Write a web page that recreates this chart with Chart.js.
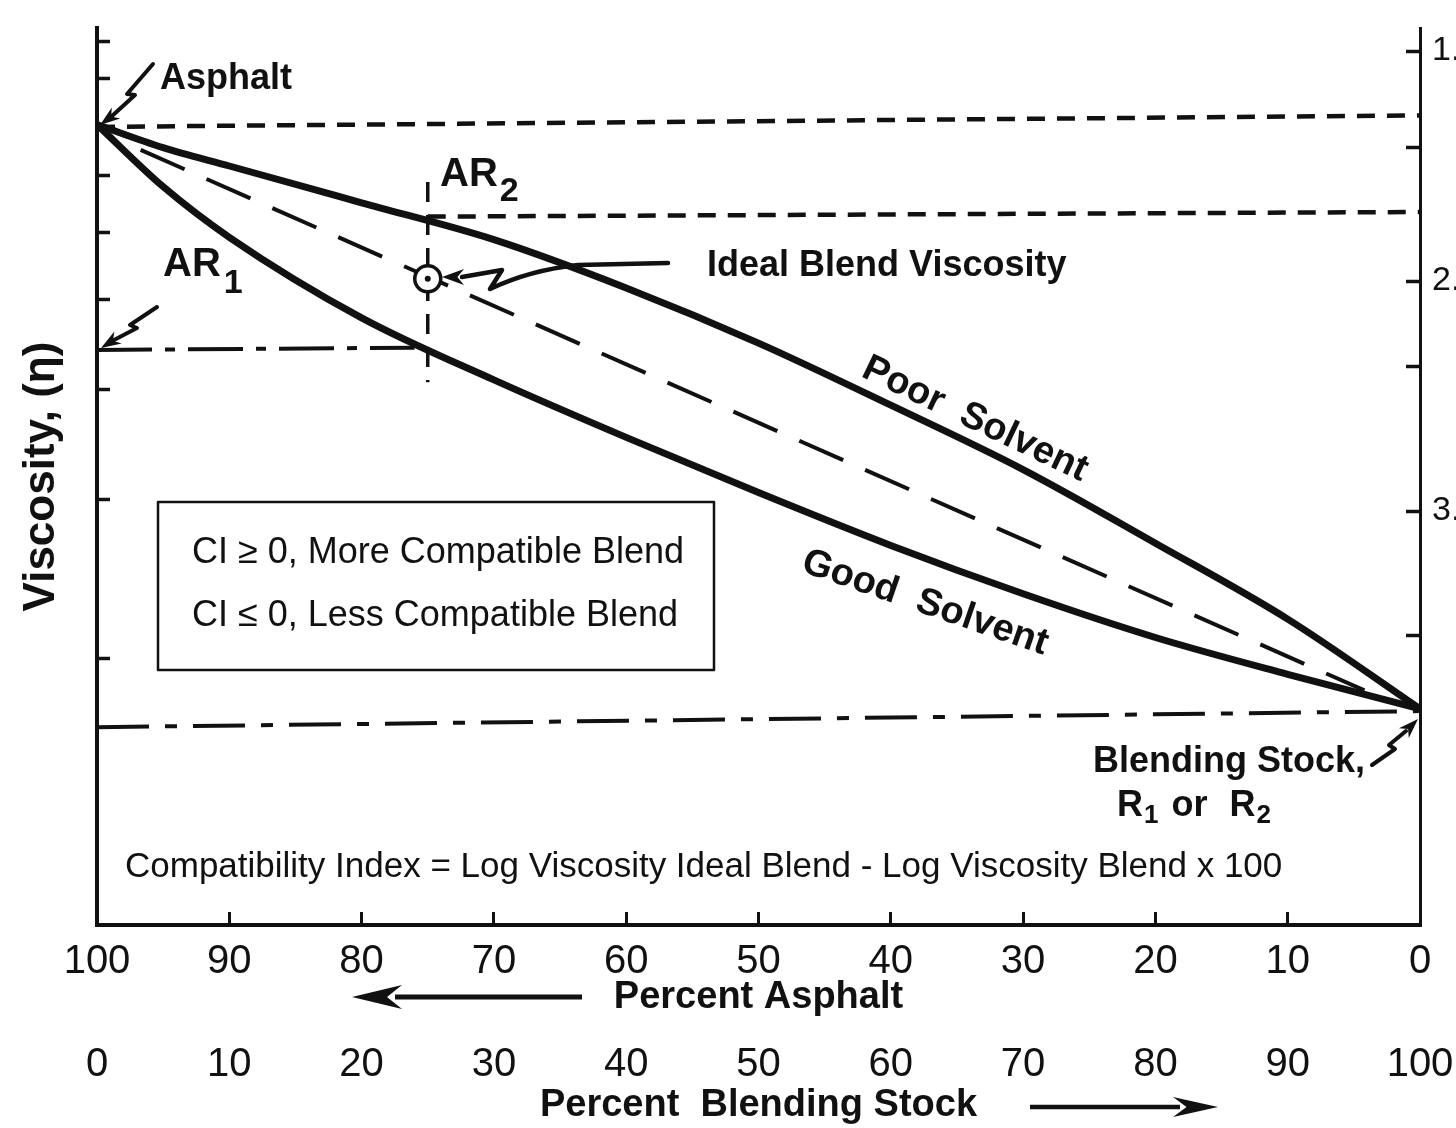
<!DOCTYPE html>
<html>
<head>
<meta charset="utf-8">
<title>Compatibility Index - blend viscosity</title>
<style>
  html, body { margin: 0; padding: 0; background: #fff; }
  #wrap { width: 1456px; height: 1128px; }
</style>
<script src="https://cdn.jsdelivr.net/npm/chart.js@4.4.1/dist/chart.umd.min.js"></script>
</head>
<body>
<div id="wrap"><canvas id="blendChart" width="1456" height="1128"></canvas></div>
<script>
/* =========================
   DATA
   x = percent asphalt, y = log viscosity on the right-hand scale
========================= */

const asphaltPct  = [100, 95, 90, 80, 70, 60, 50, 40, 30, 20, 10, 0];
const poorSolvent = [1.32, 1.42, 1.50, 1.66, 1.82, 2.03, 2.27, 2.54, 2.82, 3.14, 3.47, 3.86];
const goodSolvent = [1.32, 1.59, 1.81, 2.16, 2.43, 2.68, 2.92, 3.15, 3.36, 3.55, 3.71, 3.86];

const idealPct   = [96.7, 4.2];
const idealBlend = [1.43, 3.78];

const asphaltLevelPct = [100, 0];
const asphaltLevel    = [1.33, 1.28];
const ar2LevelPct     = [75, 0];
const ar2Level        = [1.72, 1.70];
const ar1LevelPct     = [100, 76];
const ar1Level        = [2.30, 2.29];
const blendMarkPct    = [75, 75];
const blendMark       = [1.57, 2.44];
const stockLevelPct   = [100, 0];
const stockLevel      = [3.94, 3.87];

const idealPointPct = [75];
const idealPoint    = [1.99];

const leftTicks       = [0.96, 1.12, 1.54, 1.79, 2.08, 2.47, 2.95, 3.64];
const rightTicks      = [1.0, 1.42, 2.0, 2.37, 3.0, 3.54];
const rightTickLabels = ['1.', '', '2.', '', '3.', ''];

const FONT = '"Liberation Sans", Arial, Helvetica, sans-serif';
const INK = '#111';

function series(label, xs, ys, style) {
  return Object.assign({
    label: label,
    data: xs.map((x, i) => ({ x: x, y: ys[i] })),
    borderColor: INK,
    backgroundColor: INK,
    pointRadius: 0,
    fill: false,
    tension: 0,
    order: 3,
    xAxisID: 'x',
    yAxisID: 'y'
  }, style);
}

// keep the axes from pushing the plot area in for their edge labels
function noEdgePadding(scale) {
  scale.paddingTop = 0;
  scale.paddingBottom = 0;
  scale.paddingLeft = 0;
  scale.paddingRight = 0;
}

/* =========================
   ANNOTATIONS
========================= */

function text(ctx, str, x, y, size, weight, angle) {
  ctx.save();
  ctx.font = weight + ' ' + size + 'px ' + FONT;
  ctx.translate(x, y);
  if (angle) ctx.rotate(angle * Math.PI / 180);
  ctx.textAlign = 'left';
  ctx.textBaseline = 'alphabetic';
  ctx.fillText(str, 0, 0);
  const w = ctx.measureText(str).width;
  ctx.restore();
  return w;
}

function polyline(ctx, pts, width) {
  ctx.lineWidth = width;
  ctx.beginPath();
  ctx.moveTo(pts[0][0], pts[0][1]);
  for (let i = 1; i < pts.length; i++) ctx.lineTo(pts[i][0], pts[i][1]);
  ctx.stroke();
}

function arrowHead(ctx, tip, from, len, half) {
  const ang = Math.atan2(tip[1] - from[1], tip[0] - from[0]);
  ctx.save();
  ctx.translate(tip[0], tip[1]);
  ctx.rotate(ang);
  ctx.beginPath();
  ctx.moveTo(0, 0);
  ctx.lineTo(-len, -half);
  ctx.lineTo(-len * 0.7, 0);
  ctx.lineTo(-len, half);
  ctx.closePath();
  ctx.fill();
  ctx.restore();
}

const annotationPlugin = {
  id: 'annotations',
  afterDraw(chart) {
    const ctx = chart.ctx;
    ctx.save();
    ctx.fillStyle = INK;
    ctx.strokeStyle = INK;
    ctx.lineCap = 'round';
    ctx.lineJoin = 'round';

    // Asphalt
    text(ctx, 'Asphalt', 160, 89, 36, 'bold');
    polyline(ctx, [[153, 64], [127, 94], [135, 95], [112, 116]], 4);
    arrowHead(ctx, [100, 125], [112, 116], 20, 7);

    // AR2
    let w = text(ctx, 'AR', 440, 186, 40, 'bold');
    text(ctx, '2', 440 + w + 2, 201, 34, 'bold');

    // AR1
    w = text(ctx, 'AR', 163, 276, 40, 'bold');
    text(ctx, '1', 163 + w + 3, 293, 34, 'bold');
    polyline(ctx, [[157, 307], [130, 325], [137, 328], [114, 340]], 4);
    arrowHead(ctx, [101, 348], [114, 340], 20, 7);

    // Ideal blend viscosity
    text(ctx, 'Ideal Blend Viscosity', 707, 276, 36, 'bold');
    ctx.lineWidth = 4.5;
    ctx.beginPath();
    ctx.moveTo(668, 263);
    ctx.lineTo(578, 265);
    ctx.quadraticCurveTo(530, 270, 490, 289);
    ctx.lineTo(502, 270);
    ctx.lineTo(462, 277);
    ctx.stroke();
    arrowHead(ctx, [442, 277], [462, 277], 22, 8);

    // curve names
    text(ctx, 'Poor  Solvent', 860, 376, 38, 'bold', 25.5);
    text(ctx, 'Good  Solvent', 800, 571, 38, 'bold', 19);

    // compatibility box
    ctx.lineWidth = 2.5;
    ctx.strokeRect(158, 502, 556, 168);
    text(ctx, 'CI \u2265 0, More Compatible Blend', 192, 563, 36, 'normal');
    text(ctx, 'CI \u2264 0, Less Compatible Blend', 192, 626, 36, 'normal');

    // blending stock
    text(ctx, 'Blending Stock,', 1093, 772, 36, 'bold');
    let x = 1117;
    x += text(ctx, 'R', x, 816, 36, 'bold');
    x += text(ctx, '1', x + 1, 823, 26, 'bold') + 14;
    x += text(ctx, 'or', x, 816, 36, 'bold') + 22;
    x += text(ctx, 'R', x, 816, 36, 'bold');
    text(ctx, '2', x + 1, 823, 26, 'bold');
    polyline(ctx, [[1372, 765], [1395, 749], [1389, 745], [1406, 731]], 4);
    arrowHead(ctx, [1418, 719], [1406, 731], 20, 7);

    // index definition
    text(ctx, 'Compatibility Index = Log Viscosity Ideal Blend - Log Viscosity Blend x 100', 125, 877, 35, 'normal');

    // direction arrows under the axis titles
    ctx.lineCap = 'butt';
    polyline(ctx, [[582, 997], [395, 997]], 5);
    arrowHead(ctx, [352, 997], [582, 997], 50, 12);
    polyline(ctx, [[1030, 1107], [1180, 1107]], 4.5);
    arrowHead(ctx, [1218, 1107], [1030, 1107], 45, 10);

    ctx.restore();
  }
};

/* =========================
   CHART
========================= */

const datasets = [
  series('Ideal blend', idealPct, idealBlend, {
    borderWidth: 4, borderDash: [48, 24]
  }),
  series('Poor solvent', asphaltPct, poorSolvent, {
    borderWidth: 7, cubicInterpolationMode: 'monotone', order: 2
  }),
  series('Good solvent', asphaltPct, goodSolvent, {
    borderWidth: 7, cubicInterpolationMode: 'monotone', order: 2
  }),
  series('Asphalt level', asphaltLevelPct, asphaltLevel, {
    borderWidth: 4.5, borderDash: [18, 12]
  }),
  series('AR2 level', ar2LevelPct, ar2Level, {
    borderWidth: 4.5, borderDash: [18, 12]
  }),
  series('AR1 level', ar1LevelPct, ar1Level, {
    borderWidth: 4, borderDash: [55, 13, 10, 13]
  }),
  series('Blend mark', blendMarkPct, blendMark, {
    borderWidth: 3.5, borderDash: [20, 13]
  }),
  series('Blending stock level', stockLevelPct, stockLevel, {
    borderWidth: 4, borderDash: [52, 16, 12, 16]
  }),
  series('Ideal point', idealPointPct, idealPoint, {
    showLine: false, pointRadius: 13, pointBorderWidth: 3.5,
    pointBackgroundColor: '#fff', pointBorderColor: INK, order: 1
  }),
  series('Ideal point centre', idealPointPct, idealPoint, {
    showLine: false, pointRadius: 3, pointBorderWidth: 0,
    pointBackgroundColor: INK, order: 0
  })
];

Chart.defaults.font.family = FONT;
Chart.defaults.color = INK;

new Chart(document.getElementById('blendChart').getContext('2d'), {
  type: 'line',
  data: { datasets: datasets },
  options: {
    responsive: false,
    animation: false,
    devicePixelRatio: 1,
    layout: { padding: { top: 28, left: 0, right: 0, bottom: 0 } },
    plugins: {
      legend: { display: false },
      tooltip: { enabled: false }
    },
    scales: {
      x: {
        type: 'linear',
        position: 'bottom',
        reverse: true,
        min: 0,
        max: 100,
        weight: 0,
        border: { display: true, color: INK, width: 4 },
        grid: {
          drawOnChartArea: false, drawTicks: true,
          tickLength: -13, tickWidth: 3, tickColor: INK
        },
        ticks: {
          stepSize: 10, maxRotation: 0, autoSkip: false,
          padding: 26, color: INK,
          font: { size: 40, weight: 'normal' }
        },
        title: {
          display: true, text: 'Percent Asphalt', color: INK,
          font: { size: 38, weight: 'bold' },
          padding: { top: 0, bottom: 4 }
        },
        afterFit(scale) { scale.height = 99; noEdgePadding(scale); }
      },
      x2: {
        type: 'linear',
        position: 'bottom',
        min: 0,
        max: 100,
        weight: 1,
        border: { display: false },
        grid: { display: false, drawTicks: false },
        ticks: {
          stepSize: 10, maxRotation: 0, autoSkip: false,
          padding: 17, color: INK,
          font: { size: 40, weight: 'normal' }
        },
        title: {
          display: true, text: 'Percent  Blending Stock', color: INK,
          font: { size: 38, weight: 'bold' },
          padding: { top: 0, bottom: 0 }
        },
        afterFit(scale) { scale.height = 104; noEdgePadding(scale); }
      },
      y: {
        type: 'linear',
        position: 'left',
        reverse: true,
        min: 0.9,
        max: 4.8,
        border: { display: true, color: INK, width: 4 },
        grid: {
          drawOnChartArea: false, drawTicks: true,
          tickLength: -13, tickWidth: 3.5, tickColor: INK
        },
        ticks: { display: false, autoSkip: false },
        afterBuildTicks(scale) {
          scale.ticks = leftTicks.map(v => ({ value: v }));
        },
        title: {
          display: true, text: 'Viscosity, (\u03B7)', color: INK,
          font: { size: 44, weight: 'bold' },
          padding: { top: 15, bottom: 0 }
        },
        afterFit(scale) { scale.width = 97; noEdgePadding(scale); }
      },
      y2: {
        type: 'linear',
        position: 'right',
        reverse: true,
        min: 0.9,
        max: 4.8,
        border: { display: true, color: INK, width: 3 },
        grid: {
          drawOnChartArea: false, drawTicks: true,
          tickLength: -14, tickWidth: 3.5, tickColor: INK
        },
        ticks: {
          autoSkip: false, padding: 26, color: INK,
          font: { size: 34, weight: 'normal' },
          callback: function(value) {
            const i = rightTicks.indexOf(value);
            return i >= 0 ? rightTickLabels[i] : '';
          }
        },
        afterBuildTicks(scale) {
          scale.ticks = rightTicks.map(v => ({ value: v }));
        },
        afterFit(scale) { scale.width = 36; noEdgePadding(scale); }
      }
    }
  },
  plugins: [annotationPlugin]
});
</script>
</body>
</html>
